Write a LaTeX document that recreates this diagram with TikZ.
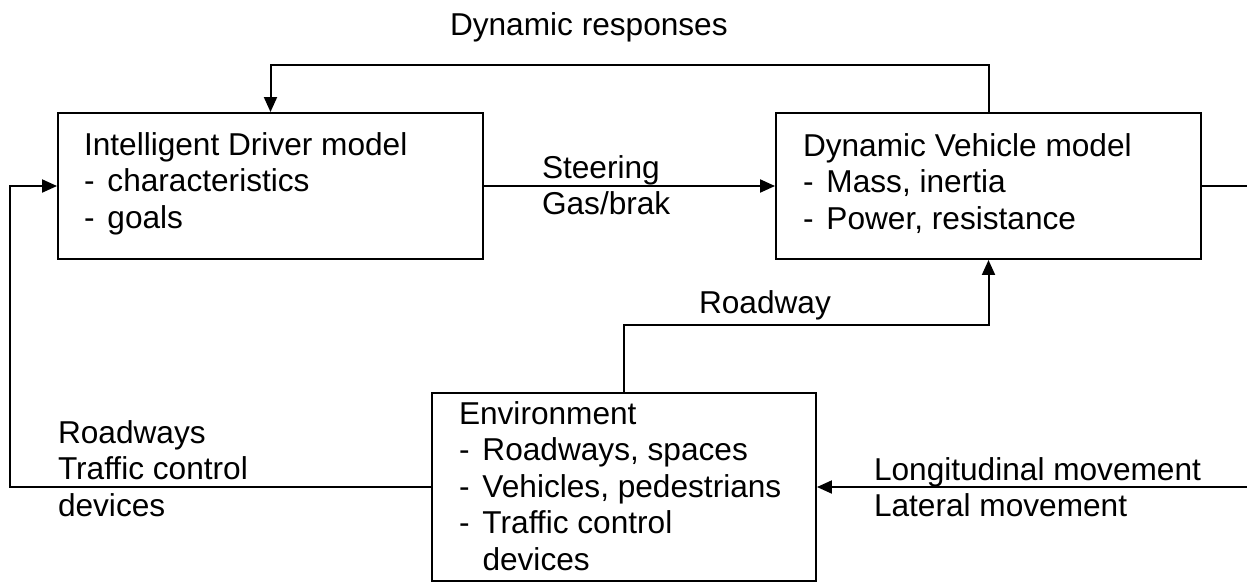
\documentclass[tikz,border=0pt]{standalone}
\usepackage{fontspec}
\setmainfont{Liberation Sans}
\usetikzlibrary{arrows.meta}
\newcommand{\itm}{\makebox[0.47cm][l]{-}}

\begin{document}
\begin{tikzpicture}[x=0.02cm,y=-0.02cm,line width=0.04cm,
	every node/.style={font=\fontsize{18}{20.8}\selectfont},
	blok/.style={draw,minimum width=8.5cm,minimum height=2.92cm,inner sep=0},
	envblok/.style={draw,minimum width=7.68cm,minimum height=3.76cm,inner sep=0},
	txt/.style={inner sep=0,align=left,anchor=north west},
	arr/.style={-{Triangle[length=0.3cm,width=0.26cm]}}]
	\useasboundingbox (0,0) rectangle (1247,582);

	% the three blocks
	\node[blok] (driver) at (270.5,186) {};
	\node[blok] (vehicle) at (988.5,186) {};
	\node[envblok] (env) at (624,487) {};

	\node[txt] (drivertxt) at (83,131.3) {Intelligent Driver model\\\itm characteristics\\\itm goals};
	\node[txt] (vehicletxt) at (802,132.3) {Dynamic Vehicle model\\\itm Mass, inertia\\\itm Power, resistance};
	\node[txt] (envtxt) at (458,400.3) {Environment\\\itm Roadways, spaces\\\itm Vehicles, pedestrians\\\itm Traffic control\\\hspace*{0.47cm}devices};

	% labels on the connectors
	\node[inner sep=0,anchor=base west] (resp) at (449,35) {Dynamic responses};
	\node[txt] (steer) at (541,154.3) {Steering\\Gas/brak};
	\node[inner sep=0,anchor=base west] (road) at (698,313) {Roadway};
	\node[txt] (roads) at (57,419.3) {Roadways\\Traffic control\\devices};
	\node[txt] (move) at (873,456.3) {Longitudinal movement\\Lateral movement};

	\coordinate (lft) at (10,487);
	\coordinate (rgt) at (1262,186);

	% connectors
	\draw[arr] (vehicle.north) -- ++(0,-47) -| (driver.north);
	\draw[arr] (driver.east) -- (vehicle.west);
	\draw[arr] (env.north) -- ++(0,-67) -| (vehicle.south);
	\draw[arr] (env.west) -- (lft) |- (driver.west);
	\draw[arr] (vehicle.east) -- (rgt) |- (env.east);
\end{tikzpicture}
\end{document}
